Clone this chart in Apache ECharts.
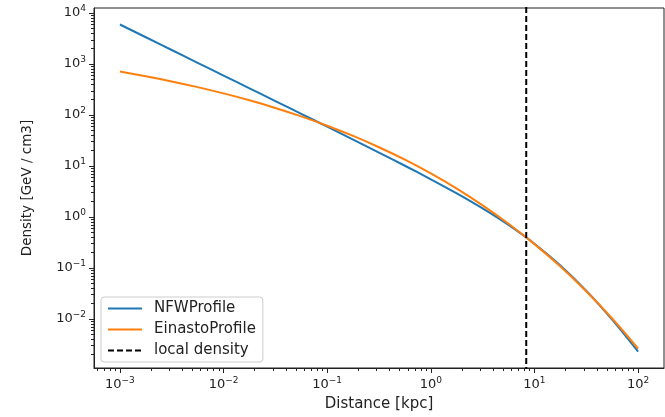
<!DOCTYPE html>
<html>
<head>
<meta charset="utf-8">
<script src="https://cdn.jsdelivr.net/npm/echarts@6/dist/echarts.min.js"></script>
<style>
  html, body { margin: 0; padding: 0; background: #fff; }
  #chart { width: 665px; height: 417px; }
</style>
</head>
<body>
<div id="chart"></div>
<script>
// Galactocentric distance samples [kpc]
const distance = [0.001, 0.00178, 0.00316, 0.00562, 0.01, 0.0178, 0.0316, 0.0562, 0.1, 0.178,
                  0.316, 0.562, 1, 1.78, 3.16, 5.62, 10, 17.8, 31.6, 56.2, 100];
// Dark matter density [GeV / cm3]
const nfwDensity = [5970, 3358, 1888, 1061, 596.6, 335.3, 188.3, 105.7, 59.22, 33.10,
                    18.40, 10.15, 5.510, 2.918, 1.480, 0.7016, 0.3005, 0.1125, 0.03586, 0.009735, 0.002300];
const einastoDensity = [713.2, 577.5, 457.4, 353.6, 266.2, 194.7, 137.9, 94.24, 61.94, 38.99,
                        23.40, 13.33, 7.165, 3.613, 1.698, 0.7386, 0.2949, 0.1071, 0.03507, 0.01023, 0.002631];
// Solar position marker
const localDistance = [8.33, 8.33];
const localSpan = [1e-5, 1e6];

const seriesNames = ['NFWProfile', 'EinastoProfile', 'local density'];

// Major tick positions (decades)
const xTicks = [1e-3, 1e-2, 1e-1, 1e0, 1e1, 1e2];
const yTicks = [1e-2, 1e-1, 1e0, 1e1, 1e2, 1e3, 1e4];

// Axis limits (decades)
const xLimits = [-3.25, 2.25];
const yLimits = [-2.96, 4.10];

const FONT = 'DejaVu Sans';
const INK = '#222';

function pairs(xs, ys) { return xs.map((x, i) => [x, ys[i]]); }

// 2..9 x 10^k between the axis limits
function minorTicks(lim) {
  const out = [];
  for (let k = Math.floor(lim[0]); k <= Math.ceil(lim[1]); k++) {
    for (let m = 2; m <= 9; m++) {
      const v = m * Math.pow(10, k);
      const l = Math.log10(v);
      if (l > lim[0] && l < lim[1]) out.push(v);
    }
  }
  return out;
}

function powLabel(value) {
  const l = Math.log10(value);
  const e = Math.round(l);
  if (Math.abs(l - e) > 1e-6) return '';
  const s = e < 0 ? '\u2212' + Math.abs(e) : String(e);
  return '{b|10}{s|' + s + '}';
}

const labelRich = {
  b: { fontFamily: FONT, fontSize: 13, color: INK },
  s: { fontFamily: FONT, fontSize: 9, color: INK, padding: [0, 0, 8, 0] }
};

function mainAxis(lim, ticks, name, nameGap, nameSize) {
  return {
    type: 'log', logBase: 10,
    min: Math.pow(10, lim[0]), max: Math.pow(10, lim[1]),
    name: name, nameLocation: 'middle', nameGap: nameGap,
    nameTextStyle: { fontFamily: FONT, fontSize: nameSize, color: INK },
    axisLine: { show: true, lineStyle: { color: INK, width: 1 } },
    axisTick: { show: true, length: 5, customValues: ticks, lineStyle: { color: INK } },
    minorTick: { show: false },
    axisLabel: { formatter: powLabel, rich: labelRich, margin: 8, customValues: ticks },
    splitLine: { show: false }
  };
}

function minorAxis(lim) {
  const t = minorTicks(lim);
  return {
    type: 'log', logBase: 10,
    min: Math.pow(10, lim[0]), max: Math.pow(10, lim[1]),
    axisLine: { show: false },
    axisTick: { show: true, length: 3, customValues: t, lineStyle: { color: INK } },
    minorTick: { show: false },
    axisLabel: { show: false },
    splitLine: { show: false }
  };
}

const chart = echarts.init(document.getElementById('chart'), null, { renderer: 'canvas' });

chart.setOption({
  animation: false,
  backgroundColor: '#fff',
  grid: {
    left: 94, right: 1, top: 8, bottom: 48,
    show: true, borderColor: INK, borderWidth: 1, backgroundColor: '#fff'
  },
  legend: {
    orient: 'vertical',
    left: 101, top: 297,
    data: seriesNames,
    itemWidth: 34, itemHeight: 14, itemGap: 6,
    padding: [4, 7, 4, 6],
    backgroundColor: '#fff',
    borderColor: '#ccc', borderWidth: 1, borderRadius: 3,
    itemStyle: { opacity: 0 },
    lineStyle: { width: 2 },
    textStyle: { fontFamily: FONT, fontSize: 15, color: INK, padding: [0, 0, 0, 7] }
  },
  xAxis: [
    mainAxis(xLimits, xTicks, 'Distance [kpc]', 29, 15),
    Object.assign(minorAxis(xLimits), { position: 'bottom' })
  ],
  yAxis: [
    mainAxis(yLimits, yTicks, 'Density [GeV / cm3]', 60, 13.5),
    Object.assign(minorAxis(yLimits), { position: 'left' })
  ],
  series: [
    {
      name: seriesNames[0], type: 'line', data: pairs(distance, nfwDensity),
      showSymbol: false, symbol: 'none', smooth: 0.3,
      lineStyle: { color: '#1f77b4', width: 2 }, itemStyle: { color: '#1f77b4' }
    },
    {
      name: seriesNames[1], type: 'line', data: pairs(distance, einastoDensity),
      showSymbol: false, symbol: 'none', smooth: 0.3,
      lineStyle: { color: '#ff7f0e', width: 2 }, itemStyle: { color: '#ff7f0e' }
    },
    {
      name: seriesNames[2], type: 'line', data: pairs(localDistance, localSpan),
      showSymbol: false, symbol: 'none', clip: true,
      lineStyle: { color: '#000', width: 2, type: [6, 3] }, itemStyle: { color: '#000' }
    }
  ]
});
</script>
</body>
</html>
